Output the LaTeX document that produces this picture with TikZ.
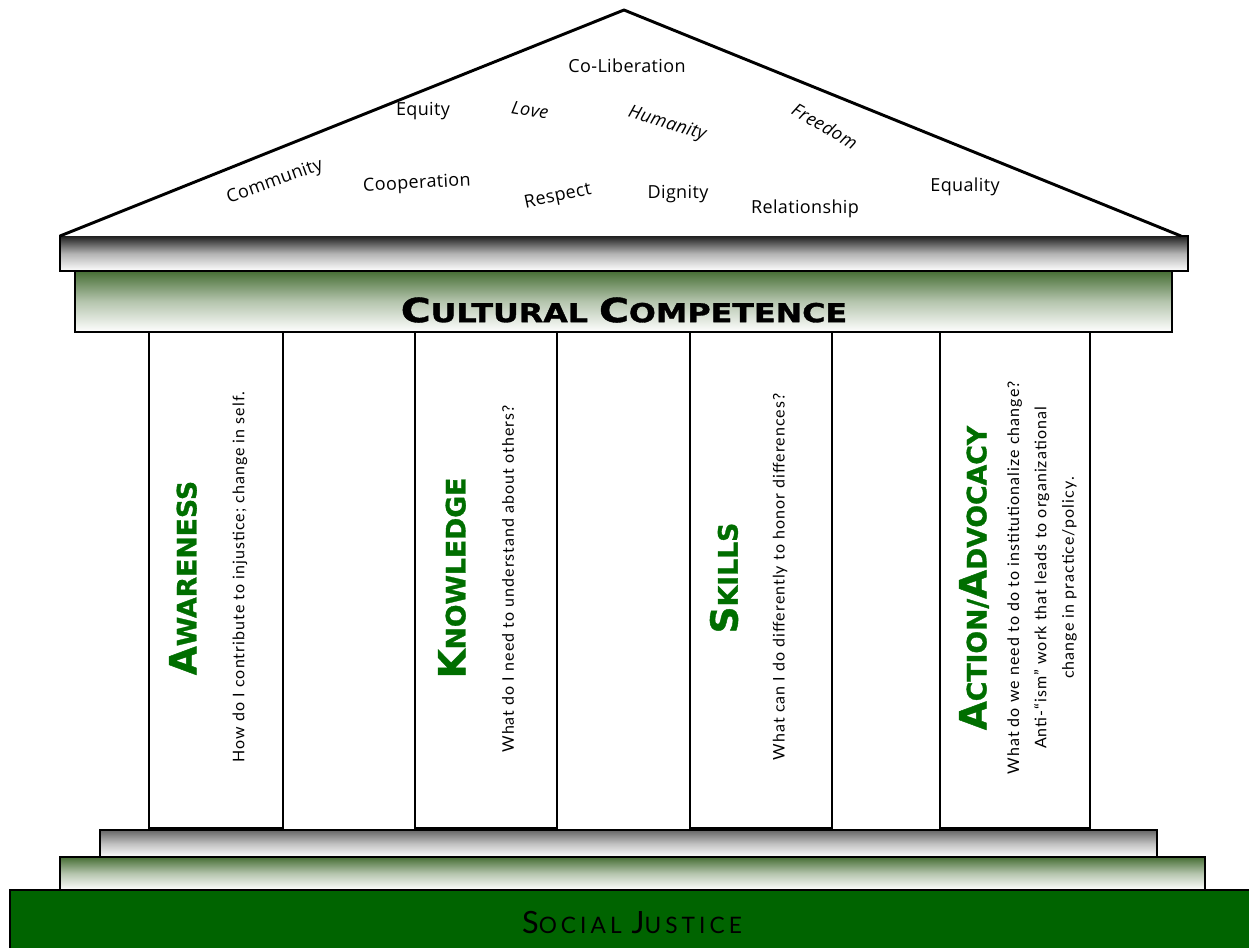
\documentclass[tikz,border=0pt]{standalone}
\usepackage{fontspec}
\usepackage{graphicx}
\setmainfont{Lato}
\newfontfamily\rooffont{Open Sans}[LetterSpace=2]
\newfontfamily\heavyfont{DejaVu Sans Bold}[FakeBold=1.2]
\newfontfamily\descfont{Lato}[LetterSpace=6.5]
\newfontfamily\sjfont{Lato}[LetterSpace=18]
\definecolor{dkgreen}{RGB}{0,100,0}
\definecolor{shgreen}{RGB}{70,110,52}
\definecolor{ttlgreen}{RGB}{0,110,0}
\newcommand\scw[4]{{\fontsize{#1}{#1}\selectfont #2}{\fontsize{#3}{#3}\selectfont #4}}
\tikzset{
  edge/.style={draw=black, line width=2.2pt, line join=miter},
  grayslab/.style={top color=black!88, bottom color=white, middle color=black!30},
  lgrayslab/.style={top color=black!60, bottom color=white, middle color=black!25},
  greenslab/.style={top color=shgreen, bottom color=white, middle color=shgreen!40!white},
  roofword/.style={font=\rooffont\fontsize{13.5}{15}\selectfont, inner sep=0pt},
  slantword/.style={roofword, font=\rooffont\fontsize{13.5}{15}\selectfont\itshape},
  ptitle/.style={font=\heavyfont, text=ttlgreen, rotate=90, inner sep=0pt},
  pdesc/.style={font=\descfont\fontsize{12}{20.5}\selectfont, rotate=90, inner sep=0pt, align=center},
}
\begin{document}
\begin{tikzpicture}[x=0.75pt,y=-0.75pt]
\useasboundingbox (0,0) rectangle (1249,947);
% base
\fill[dkgreen] (10,890) rectangle (1260,960);
\draw[edge] (10,960) -- (10,890) -- (1260,890);
\node[font=\sjfont, inner sep=0pt] (sj) at (632,922) {\scw{23}{S}{17}{OCIAL }\scw{23}{J}{17}{USTICE}};
% steps
\shade[greenslab] (60,857) rectangle (1205,890);
\draw[edge] (60,857) rectangle (1205,890);
\shade[lgrayslab] (100,830) rectangle (1157,857);
\draw[edge] (100,830) rectangle (1157,857);
% columns
\draw[edge, fill=white] (149,332) rectangle (283,828);
\draw[edge, fill=white] (415,332) rectangle (557,828);
\draw[edge, fill=white] (690,332) rectangle (832,828);
\draw[edge, fill=white] (940,332) rectangle (1090,828);
% entablature
\shade[greenslab] (75,271) rectangle (1172,332);
\draw[edge] (75,271) rectangle (1172,332);
\node[font=\heavyfont, inner sep=0pt] (cc) at (624,310) {\scalebox{1.22}[1]{\scw{25}{C}{19.5}{ULTURAL }\scw{25}{C}{19.5}{OMPETENCE}}};
% top slab
\shade[grayslab] (60,236) rectangle (1188,271);
\draw[edge] (60,236) rectangle (1188,271);
% roof
\draw[edge, fill=white, line join=round] (60,236) -- (624,10) -- (1181,236);
% roof words
\node[roofword] (w1) at (627,66) {Co-Liberation};
\node[roofword] (w2) at (423,111) {Equity};
\node[slantword, rotate=-10] (w3) at (530,110) {Love};
\node[slantword, rotate=-17] (w4) at (667,124) {Humanity};
\node[slantword, rotate=-30] (w5) at (825,126) {Freedom};
\node[roofword, rotate=20] (w6) at (275,182) {Community};
\node[roofword, rotate=3] (w7) at (417,184) {Cooperation};
\node[roofword, rotate=12] (w8) at (558,197) {Respect};
\node[roofword] (w9) at (678,194) {Dignity};
\node[roofword] (w10) at (805,209) {Relationship};
\node[roofword] (w11) at (965,187) {Equality};
% pillar titles
\node[ptitle] (t1) at (183,578) {\scw{28}{A}{20}{WARENESS}};
\node[ptitle] (t2) at (452,578) {\scw{28}{K}{20}{NOWLEDGE}};
\node[ptitle] (t3) at (724,578) {\scw{28}{S}{20}{KILLS}};
\node[ptitle] (t4) at (974,578) {\scw{28}{A}{20}{CTION/}\scw{28}{A}{20}{DVOCACY}};
% pillar descriptions
\node[pdesc] (d1) at (240,577) {How do I contribute to injustice; change in self.};
\node[pdesc] (d2) at (508,579) {What do I need to understand about others?};
\node[pdesc] (d3) at (780,577) {What can I do differently to honor differences?};
\node[pdesc] (d4) at (1042,578) {What do we need to do to institutionalize change?\\Anti-“ism” work that leads to organizational\\change in practice/policy.};
\end{tikzpicture}
\end{document}
